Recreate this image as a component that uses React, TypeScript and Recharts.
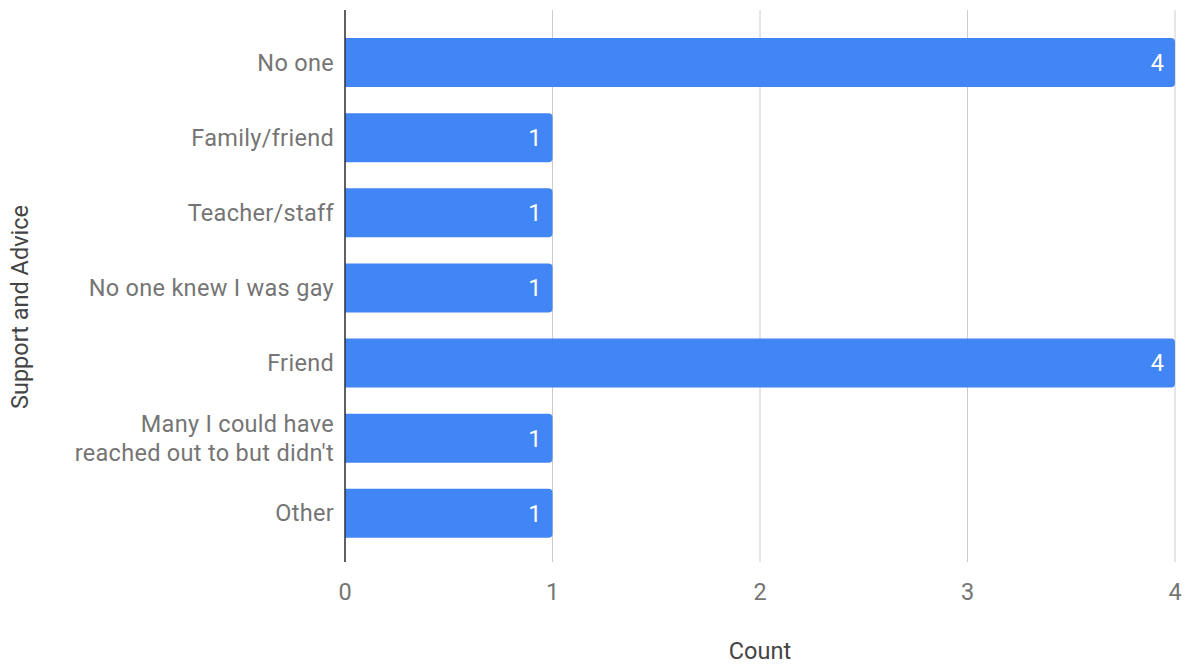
import { Bar, BarChart, CartesianGrid, LabelList, XAxis, YAxis } from "recharts";

const categories = [
  "No one",
  "Family/friend",
  "Teacher/staff",
  "No one knew I was gay",
  "Friend",
  "Many I could have\nreached out to but didn't",
  "Other",
];
const counts = [4, 1, 1, 1, 4, 1, 1];
const xTicks = [0, 1, 2, 3, 4];

const data = categories.map((label, i) => ({ label, count: counts[i] }));

const FONT = "Roboto, 'Noto Sans', sans-serif";
const FS = 23.5;

function CategoryTick({ x, y, payload }: { x?: number; y?: number; payload?: { value: string } }) {
  const lines = String(payload?.value ?? "").split("\n");
  const lineHeight = 29;
  const startY = (y ?? 0) - ((lines.length - 1) * lineHeight) / 2;
  return (
    <text
      x={334}
      y={startY}
      textAnchor="end"
      dominantBaseline="central"
      fill="#757575"
      fontSize={FS}
      fontFamily={FONT}
      letterSpacing={0.3}
    >
      {lines.map((line, i) => (
        <tspan key={i} x={334} dy={i === 0 ? 0 : lineHeight}>
          {line}
        </tspan>
      ))}
    </text>
  );
}

export default function App() {
  return (
    <div style={{ position: "fixed", left: 0, top: 0, background: "#fff" }}>
      <BarChart
        width={1185}
        height={665}
        data={data}
        layout="vertical"
        margin={{ top: 10, right: 10, bottom: 0, left: 0 }}
        barSize={49}
      >
        <CartesianGrid stroke="#cccccc" horizontal={false} />
        <XAxis
          type="number"
          domain={[0, 4]}
          ticks={xTicks}
          height={103}
          tickLine={false}
          axisLine={false}
          tickMargin={15}
          tick={{ fill: "#757575", fontSize: FS, fontFamily: FONT }}
          label={{
            content: () => (
              <text
                x={760}
                y={651}
                textAnchor="middle"
                dominantBaseline="central"
                fill="#444444"
                fontSize={FS}
                fontFamily={FONT}
              >
                Count
              </text>
            ),
          }}
        />
        <YAxis
          type="category"
          dataKey="label"
          width={345}
          tickLine={false}
          axisLine={{ stroke: "#333333", strokeWidth: 1.5 }}
          padding={{ top: 15, bottom: 11 }}
          tick={<CategoryTick />}
          interval={0}
          label={{
            content: () => (
              <text
                x={20}
                y={307}
                transform="rotate(-90, 20, 307)"
                textAnchor="middle"
                dominantBaseline="central"
                fill="#444444"
                fontSize={FS}
                fontFamily={FONT}
              >
                Support and Advice
              </text>
            ),
          }}
        />
        <Bar dataKey="count" fill="#4285f4" radius={[0, 4, 4, 0]} isAnimationActive={false}>
          <LabelList
            dataKey="count"
            position="insideRight"
            offset={11}
            fill="#ffffff"
            fontSize={FS}
            fontFamily={FONT}
          />
        </Bar>
      </BarChart>
    </div>
  );
}
